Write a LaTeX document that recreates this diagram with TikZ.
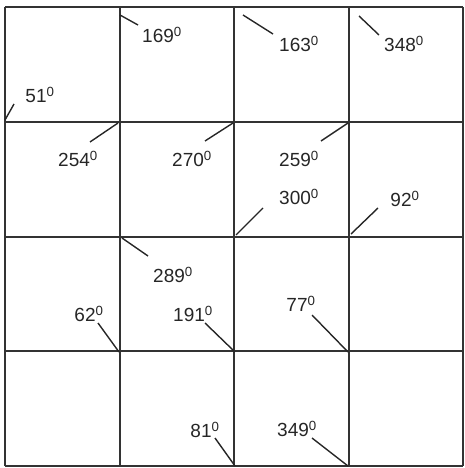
\documentclass[tikz,border=0pt]{standalone}
\usepackage{fontspec}
\setmainfont{Liberation Sans}
\usepackage{tikz}

\begin{document}
\begin{tikzpicture}[x=1pt, y=-1pt,
    every node/.style={inner sep=0pt, outer sep=0pt},
    gridln/.style={draw=black!80, line width=1.9pt},
    tick/.style  ={draw=black!85, line width=1.4pt},
    ang/.style   ={font=\fontsize{19}{19}\selectfont, text=black!85}]

\useasboundingbox (0,0) rectangle (464,468);

% ── grid: 4 x 4 cells (line positions in px) ───────────────────────────
\foreach \x [count=\i from 0] in {5,120,234,349,463}{
  \foreach \y [count=\j from 0] in {7,122,237,351,466}{
    \coordinate (g-\i-\j) at (\x,\y);
  }
}
\foreach \i in {0,...,4}{
  \draw[gridln] (g-\i-0) -- (g-\i-4);
  \draw[gridln] (g-0-\i) -- (g-4-\i);
}

% ── angle labels with their direction ticks ─────────────────────────────
\foreach \n/\sx/\sy/\ex/\ey/\lx/\ly/\txt in {
    a/5/120/14/104/40/95/51,
    b/120/15/138/25/162/35/169,
    c/243/15/273/34/299/44/163,
    d/359/16/379/35/404/44/348,
    e/118/123/90/142/78/159/254,
    f/233/123/205/141/192/159/270,
    g/348/123/321/141/299/159/259,
    h/236/235/263/208/299/197/300,
    i/351/234/378/208/405/199/92,
    j/122/238/148/256/173/275/289,
    k/119/352/98/323/89/314/62,
    l/235/352/205/323/193/314/191,
    m/348/352/312/315/301/304/77,
    n/235/466/215/438/205/430/81,
    o/348/466/312/438/297/429/349}{
  \coordinate (s-\n) at (\sx,\sy);
  \coordinate (e-\n) at (\ex,\ey);
  \node[ang] (l-\n) at (\lx,\ly) {\txt\textsuperscript{0}};
  \draw[tick] (s-\n) -- (e-\n);
}
\end{tikzpicture}
\end{document}
